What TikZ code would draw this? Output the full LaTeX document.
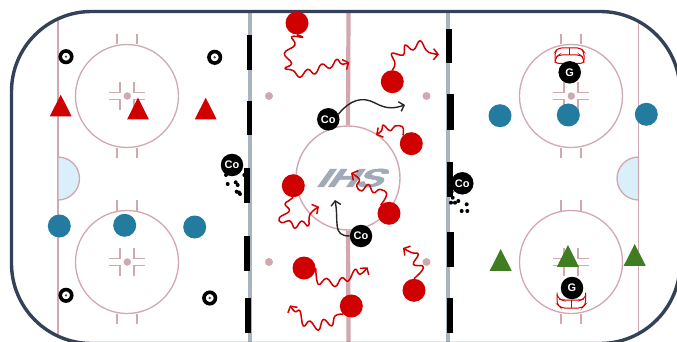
\documentclass[tikz,border=0pt]{standalone}
\usepackage{fontspec}
\setmainfont{Liberation Sans}
\newfontfamily\logofont[BoldFeatures={FakeSlant=0.45,FakeBold=2}]{Liberation Sans}
\usetikzlibrary{arrows.meta}
\definecolor{rinkpink}{HTML}{D2A8B0}
\definecolor{bordercol}{HTML}{344258}
\definecolor{bluelinecol}{HTML}{A9B4C0}
\definecolor{creasecol}{HTML}{D9EFF9}
\definecolor{redcol}{HTML}{D00000}
\definecolor{bluecol}{HTML}{247BA0}
\definecolor{greencol}{HTML}{3F7D20}
\definecolor{logocol}{HTML}{A0ABB7}
\tikzset{
  rinkline/.style={draw=rinkpink,line width=1.3pt},
  dotmark/.style={circle,fill=rinkpink,minimum size=7.5pt,inner sep=0pt},
  neutraldot/.style={circle,fill=rinkpink,minimum size=8pt,inner sep=0pt},
  faceoff/.style={circle,draw=rinkpink,line width=1.3pt,minimum size=103pt,inner sep=0pt},
  barmark/.style={fill=black},
  redplayer/.style={circle,fill=redcol,minimum size=23pt,inner sep=0pt},
  blueplayer/.style={circle,fill=bluecol,minimum size=23pt,inner sep=0pt},
  coach/.style={circle,fill=black,minimum size=22.5pt,inner sep=0pt,text=white,font=\bfseries\fontsize{11}{11}\selectfont},
  cone/.style={circle,draw=black,line width=3.6pt,fill=white,minimum size=11.5pt,inner sep=0pt},
  conedot/.style={circle,fill=black!70,minimum size=2.6pt,inner sep=0pt},
  puck/.style={circle,fill=black,minimum size=4pt,inner sep=0pt},
  wav/.style={draw=redcol,line width=1.5pt,line join=round,
    -{Straight Barb[length=4.5pt,width=11pt,line width=1.5pt]}},
  skate/.style={draw=black!85,line width=1.4pt,-{Straight Barb[length=4.5pt,width=10pt,line width=1.4pt]}},
  netline/.style={draw=redcol,line width=1pt},
  zoomA/.style={shift={(240,0)},x=0.33333pt,y=-0.33333pt},
  zoomB/.style={shift={(240,171)},x=0.33333pt,y=-0.33333pt},
}
\newcommand{\rinktri}[3]{\fill[#3] (#1,#2) -- ++(-11,21.8) -- ++(22,0) -- cycle;}
\newcommand{\faceoffmarks}[3]{%
  \begin{scope}[shift={(#1,#2)}]
    \node[faceoff] (#3c) at (0,0) {};
    \node[dotmark] (#3d) at (0.3,0) {};
    \draw[rinkline] (-10,-51.5) -- (-10,-62) (10,-51.5) -- (10,-62)
      (-10,51.5) -- (-10,62) (10,51.5) -- (10,62);
    \draw[rinkline] (-18,-3.5) -- (-7,-3.5) -- (-7,-14)
      (18,-3.5) -- (7,-3.5) -- (7,-14)
      (-18,3.5) -- (-7,3.5) -- (-7,14)
      (18,3.5) -- (7,3.5) -- (7,14);
  \end{scope}}
\begin{document}
\begin{tikzpicture}[x=1pt,y=-1pt]
\useasboundingbox (0,0) rectangle (677,342);
\clip (0,0) rectangle (677,342);
\fill[white] (0,0) rectangle (677,342);
% lines
\coordinate (gl1) at (58,19); \coordinate (gl2) at (58,337);
\coordinate (gr1) at (638.5,21); \coordinate (gr2) at (638.5,335);
\draw[rinkline] (gl1) -- (gl2);
\draw[rinkline] (gr1) -- (gr2);
\coordinate (bl1) at (250,12); \coordinate (bl2) at (250,342);
\coordinate (br1) at (448,12); \coordinate (br2) at (448,342);
\draw[bluelinecol,line width=3.6pt] (bl1) -- (bl2);
\draw[bluelinecol,line width=3.6pt] (br1) -- (br2);
% logo
\node[inner sep=0pt,text=logocol] (logo) at (348,178) {\resizebox{66pt}{18pt}{\logofont\bfseries I\kern-0.02em H\kern-0.04em S}};
% red line and centre circle
\node[circle,draw=rinkpink,line width=1.4pt,minimum size=104pt,inner sep=0pt] (cc) at (348,178) {};
\coordinate (cl1) at (348.5,12); \coordinate (cl2) at (348.5,342);
\draw[rinkpink,line width=4.2pt] (cl1) -- (cc.north);
\draw[rinkpink,line width=4.2pt] (cc.south) -- (cl2);
% creases
\filldraw[fill=creasecol,draw=rinkpink,line width=1.3pt] (58,157) arc[start angle=-90,end angle=90,radius=21.5] -- cycle;
\filldraw[fill=creasecol,draw=rinkpink,line width=1.3pt] (638.5,157) arc[start angle=-90,end angle=-270,radius=21.5] -- cycle;
% faceoff circles
\faceoffmarks{127}{96}{fa}
\faceoffmarks{127}{262}{fb}
\faceoffmarks{571}{96}{fc}
\faceoffmarks{571}{262}{fd}
\node[neutraldot] (n1) at (269,96) {};
\node[neutraldot] (n2) at (426.5,96) {};
\node[neutraldot] (n3) at (269,262) {};
\node[neutraldot] (n4) at (426.5,262) {};
% border
\draw[bordercol,line width=3.4pt,rounded corners=80pt] (11.5,11.5) rectangle (680,343.5);
% bars
\fill[barmark] (246.7,35) rectangle (252,70);
\fill[barmark] (246.7,100.7) rectangle (252,135);
\fill[barmark] (244,168) rectangle (249.7,203);
\fill[barmark] (244,236) rectangle (249.5,271);
\fill[barmark] (245,297.7) rectangle (250.7,332.7);
\fill[barmark] (446,28.7) rectangle (452,63.3);
\fill[barmark] (447.3,94.3) rectangle (453.7,129.7);
\fill[barmark] (447,161.7) rectangle (453,196.7);
\fill[barmark] (447.3,232) rectangle (454,267);
\fill[barmark] (447.3,298) rectangle (453.3,333);
% triangles
\rinktri{60.7}{94.7}{redcol}
\rinktri{138}{97.7}{redcol}
\rinktri{205.7}{97.7}{redcol}
\rinktri{500.7}{249}{greencol}
\rinktri{567.9}{245}{greencol}
\rinktri{634.7}{244}{greencol}
% blue players
\node[blueplayer] (b1) at (59.3,226) {};
\node[blueplayer] (b2) at (124.7,225.3) {};
\node[blueplayer] (b3) at (194.7,227) {};
\node[blueplayer] (b4) at (500,115.7) {};
\node[blueplayer] (b5) at (568.3,115) {};
\node[blueplayer] (b6) at (646.3,114.3) {};
% cones
\node[cone] (k1) at (66,56.7) {}; \node[conedot] (k1d) at (k1) {};
\node[cone] (k2) at (214.7,57.3) {}; \node[conedot] (k2d) at (k2) {};
\node[cone] (k3) at (66,295.3) {}; \node[conedot] (k3d) at (k3) {};
\node[cone] (k4) at (209.7,298) {}; \node[conedot] (k4d) at (k4) {};
% nets
\draw[netline,rounded corners=3.5pt] (555,63.5) -- (555,52) -- (558,48) -- (581,48) -- (584,52) -- (584,63.5) -- cycle;
\draw[netline,rounded corners=3pt] (555,63) -- (556,57) -- (559,55) -- (580,55) -- (583,57) -- (584,63);
\draw[netline] (569,48) -- (569,55);
\draw[netline,rounded corners=3.5pt] (557,292.7) -- (557,304) -- (561,308) -- (582,308) -- (585.7,304) -- (585.7,292.7);
\draw[netline,rounded corners=3pt] (557,295) -- (559,299) -- (562,300) -- (581,300) -- (584,299) -- (585.7,295);
\draw[netline] (571.3,300) -- (571.3,308);
% red players
\node[redplayer] (p1) at (297,23) {};
\node[redplayer] (p2) at (392.3,81.7) {};
\node[redplayer] (p3) at (411.3,143.7) {};
\node[redplayer] (p4) at (293.3,185.7) {};
\node[redplayer] (p5) at (389,213.3) {};
\node[redplayer] (p6) at (304,268) {};
\node[redplayer] (p7) at (414,290.3) {};
\node[redplayer] (p8) at (351.3,306) {};
% wavy paths
\begin{scope}[zoomA]
\coordinate (e1) at (328,187);
\coordinate (e2) at (597,163);
\coordinate (e3) at (408,405);
\draw[wav] plot[smooth,tension=0.75] coordinates {(p1.south) (188,112) (155,110) (165,135) (133,160) (155,190) (135,205) (160,212) (180,232) (203,208) (225,222) (245,192) (270,205) (290,178) (305,192) (e1)};
\draw[wav] plot[smooth,tension=0.75] coordinates {(p2.north) (465,190) (455,160) (490,165) (495,135) (520,150) (540,122) (558,150) (575,160) (e2)};
\draw[wav] plot[smooth,tension=0.75] coordinates {(p3.north west) (490,395) (487,380) (465,378) (450,392) (430,375) (425,392) (e3)};
\end{scope}
\begin{scope}[zoomB]
\coordinate (e4) at (237,107);
\coordinate (e5) at (333,6);
\coordinate (e6) at (383,289);
\coordinate (e7) at (489,231);
\coordinate (e8) at (150,403);
\draw[wav] plot[smooth,tension=0.75] coordinates {(p4.south) (145,90) (135,100) (148,120) (118,140) (125,155) (150,150) (165,172) (185,150) (205,165) (210,130) (e4)};
\draw[wav] plot[smooth,tension=0.75] coordinates {(p5.north west) (440,70) (420,55) (400,65) (385,40) (365,60) (350,45) (358,25) (e5)};
\draw[wav] plot[smooth,tension=0.75] coordinates {(p6.east) (235,340) (260,322) (285,347) (305,320) (325,330) (345,295) (360,310) (e6)};
\draw[wav] plot[smooth,tension=0.75] coordinates {(p7.north) (545,300) (548,285) (520,280) (535,250) (515,245) (e7)};
\draw[wav] plot[smooth,tension=0.75] coordinates {(p8.south west) (285,435) (275,465) (250,445) (235,478) (210,450) (190,465) (180,420) (165,422) (e8)};
\end{scope}
% coaches
\node[coach] (c1) at (328.3,119.3) {Co};
\node[coach] (c2) at (361,236) {Co};
\node[coach] (c3) at (232,165) {Co};
\node[coach] (c4) at (462.3,183.3) {Co};
\node[coach] (g1) at (569.7,72.3) {G};
\node[coach] (g2) at (572,288) {G};
% skating arrows
\coordinate (s1) at (405,105);
\coordinate (s2) at (335,200);
\draw[skate] (c1.north east) ++(2,3) .. controls (350,100) and (362,96) .. (375,103) .. controls (388,110) and (395,108) .. (s1);
\draw[skate] (c2.west) .. controls (332,236) and (339,222) .. (s2);
% pucks
\foreach \n/\x/\y in {a/226/175,b/244.3/175,c/227.7/184,d/235.7/182.3,e/237.7/185,f/236.7/191.7,g/240/194,h/239/192.5,
  i/451.7/191.7,j/452.7/197.7,k/451/202.7,l/455/202.7,m/458.3/201,n/466.7/204.3,o/461.7/211,p/467.3/211}
  \node[puck] (pk\n) at (\x,\y) {};
\end{tikzpicture}
\end{document}
